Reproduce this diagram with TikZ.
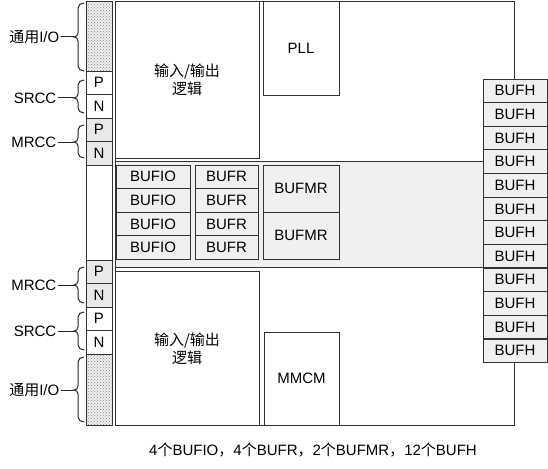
\documentclass[tikz,border=0pt]{standalone}
\usepackage{fontspec}
\setmainfont{Liberation Sans}
\newfontfamily\cjk{Noto Sans CJK SC}
\usetikzlibrary{patterns}
\newcommand\fs{\fontsize{15}{18}\selectfont}
\newcommand\mybrace[4]{%
  \draw[wire] (84,#2) to[out=180,in=90] (78,#2+5) -- (78,#4-4)
    to[out=-90,in=0] (74,#4) coordinate (#1)
    to[out=0,in=90] (78,#4+4) -- (78,#3-5) to[out=-90,in=180] (84,#3);}
\begin{document}
\begin{tikzpicture}[x=1pt,y=-1pt,
  cell/.style={draw=black!80, line width=0.95pt, inner sep=0pt, outer sep=0pt,
    anchor=north west, font=\fs, align=center},
  plain/.style={cell, fill=white},
  buf/.style={cell, fill=gray!12},
  mr/.style={cell, fill=gray!17},
  dots/.style={cell, preaction={fill=gray!12}, pattern=crosshatch dots, pattern color=gray},
  wire/.style={draw=black!85, line width=1pt},
  lbl/.style={font=\fs, inner sep=1.5pt, anchor=east}]
\useasboundingbox (0,0) rectangle (548,468);
% outer frame and pin column
\node[plain, minimum width=399, minimum height=424] (frame) at (115,1) {};
\node[plain, minimum width=26, minimum height=424] (pins) at (86,1) {};
% top pins
\node[dots, minimum width=26, minimum height=70] (io1) at (86,1) {};
\node[plain, minimum width=26, minimum height=23.5] (sp1) at (86,71) {P};
\node[plain, minimum width=26, minimum height=23.5] (sn1) at (86,94.5) {N};
\node[mr, minimum width=26, minimum height=23.5] (mp1) at (86,118) {P};
\node[mr, minimum width=26, minimum height=23.5] (mn1) at (86,141.5) {N};
% bottom pins
\node[mr, minimum width=26, minimum height=23.5] (mp2) at (86,260) {P};
\node[mr, minimum width=26, minimum height=23.5] (mn2) at (86,283.5) {N};
\node[plain, minimum width=26, minimum height=23.5] (sp2) at (86,307) {P};
\node[plain, minimum width=26, minimum height=23.5] (sn2) at (86,330.5) {N};
\node[dots, minimum width=26, minimum height=71] (io2) at (86,354) {};
% logic blocks
\node[plain, minimum width=144, minimum height=157] (log1) at (115,1) {};
\node[font=\fs, align=center, inner sep=0pt] (log1t) at (187,80) {{\cjk 输入/输出}\\{\cjk 逻辑}};
\node[plain, minimum width=76, minimum height=94] (pll) at (263,1) {PLL};
\node[plain, minimum width=144, minimum height=153.5] (log2) at (115,271.5) {};
\node[font=\fs, align=center, inner sep=0pt] (log2t) at (187,349) {{\cjk 输入/输出}\\{\cjk 逻辑}};
\node[plain, minimum width=75, minimum height=93] (mmcm) at (264,332) {MMCM};
% clock band
\node[buf, minimum width=368, minimum height=105.5] (band) at (115,161.5) {};
\foreach \i in {0,1,2,3}{
  \node[buf, minimum width=74, minimum height=23.6] (bio\i) at (116,165+\i*23.6) {BUFIO};
  \node[buf, minimum width=63, minimum height=23.6] (br\i) at (195,165+\i*23.6) {BUFR};
}
\node[buf, minimum width=76, minimum height=47.2] (bmr0) at (263,165) {BUFMR};
\node[buf, minimum width=76, minimum height=47.2] (bmr1) at (263,212.2) {BUFMR};
% BUFH column
\foreach \i in {0,...,11}{
  \node[buf, minimum width=64, minimum height=23.4] (bh\i) at (483,79+\i*23.65) {BUFH};
}
% braces and labels
\mybrace{t1}{3}{71}{37}
\mybrace{t2}{80}{113}{98}
\mybrace{t3}{125}{158}{142}
\mybrace{t4}{267}{303}{285}
\mybrace{t5}{312}{350}{331}
\mybrace{t6}{357}{422}{390}
\node[lbl] (l1) at (61,37) {{\cjk 通用}I/O};
\node[lbl] (l2) at (58,98) {SRCC};
\node[lbl] (l3) at (58,142) {MRCC};
\node[lbl] (l4) at (58,285) {MRCC};
\node[lbl] (l5) at (58,331) {SRCC};
\node[lbl] (l6) at (61,390) {{\cjk 通用}I/O};
\foreach \k in {1,...,6}{ \draw[wire] (l\k.east) -- (t\k); }
% caption
\node[font=\fs, inner sep=0pt] (cap) at (313,450) {4{\cjk 个}BUFIO{\cjk ，}4{\cjk 个}BUFR{\cjk ，}2{\cjk 个}BUFMR{\cjk ，}12{\cjk 个}BUFH};
\end{tikzpicture}
\end{document}
